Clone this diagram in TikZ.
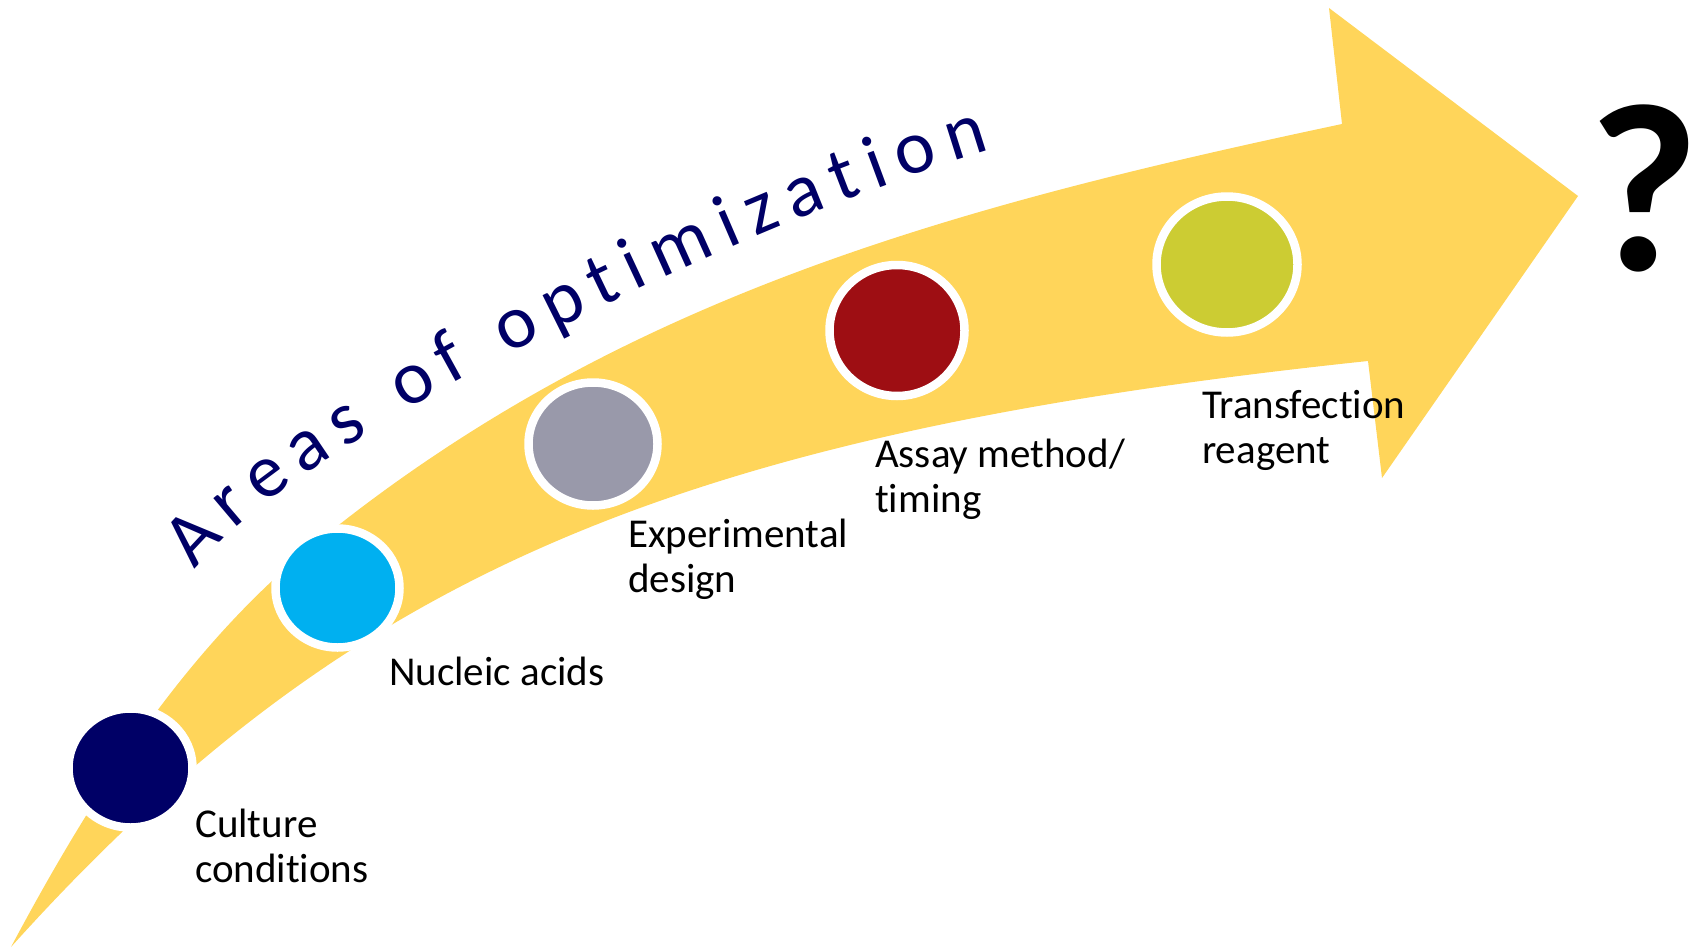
\documentclass[tikz,border=0pt]{standalone}
\usepackage{fontspec}
\setmainfont{Carlito}[Ligatures=NoCommon]
\usetikzlibrary{shapes.geometric,decorations.text}
\definecolor{arrowgold}{RGB}{255,213,90}
\definecolor{spotnavy}{RGB}{0,0,102}
\definecolor{spotcyan}{RGB}{0,176,240}
\definecolor{spotgray}{RGB}{153,153,170}
\definecolor{spotred}{RGB}{158,14,19}
\definecolor{spotolive}{RGB}{204,204,51}

\tikzset{
    spot/.style={ellipse, draw=white, line width=8.5pt, inner sep=0pt},
    % base west of a two-line node sits on its last line
    steplabel/.style={anchor=base west, align=left, inner sep=0pt,
        font=\fontsize{41}{45}\selectfont}
}

\begin{document}
\begin{tikzpicture}[x=1pt, y=-1pt]
    \useasboundingbox (0,0) rectangle (1697,950);

    % Curved arrow
    \fill[arrowgold] (11,947)
        .. controls (100,780) and (200,628) .. (340,524)
        .. controls (639,290) and (970,203) .. (1342,124)
        -- (1329,8) -- (1578,196) -- (1382,478) -- (1368,361)
        .. controls (671.5,434.5) and (345.5,575.5) .. (11,947)
        -- cycle;

    % Title along the arrow
    \path[decorate, decoration={text along path, text align={fit to path},
        text={|\fontsize{76}{76}\selectfont\color{spotnavy}|Areas of optimization}}]
        (195,570) .. controls (295,440) and (740,225) .. (990,150);

    % Stages
    \node[spot, fill=spotnavy, minimum width=124pt, minimum height=119pt] (culture) at (130.5,768) {};
    \node[spot, fill=spotcyan, minimum width=124pt, minimum height=119pt] (nucleic) at (337.5,588) {};
    \node[spot, fill=spotgray, minimum width=129pt, minimum height=123pt] (design) at (593,444) {};
    \node[spot, fill=spotred, minimum width=135pt, minimum height=131pt] (assay) at (897,330.5) {};
    \node[spot, fill=spotolive, minimum width=141pt, minimum height=136pt] (reagent) at (1227,264.5) {};

    % Captions
    \node[steplabel] (culturetxt) at (195,882) {Culture\\conditions};
    \node[steplabel] (nucleictxt) at (389,685) {Nucleic acids};
    \node[steplabel] (designtxt) at (628,592) {Experimental\\design};
    \node[steplabel] (assaytxt) at (875,512) {Assay method/\\timing};
    \node[steplabel] (reagenttxt) at (1202,463) {Transfection\\reagent};

    % What comes next
    \node[font=\bfseries\fontsize{240}{240}\selectfont, anchor=base, inner sep=0pt] (next) at (1644,270) {?};
\end{tikzpicture}
\end{document}
